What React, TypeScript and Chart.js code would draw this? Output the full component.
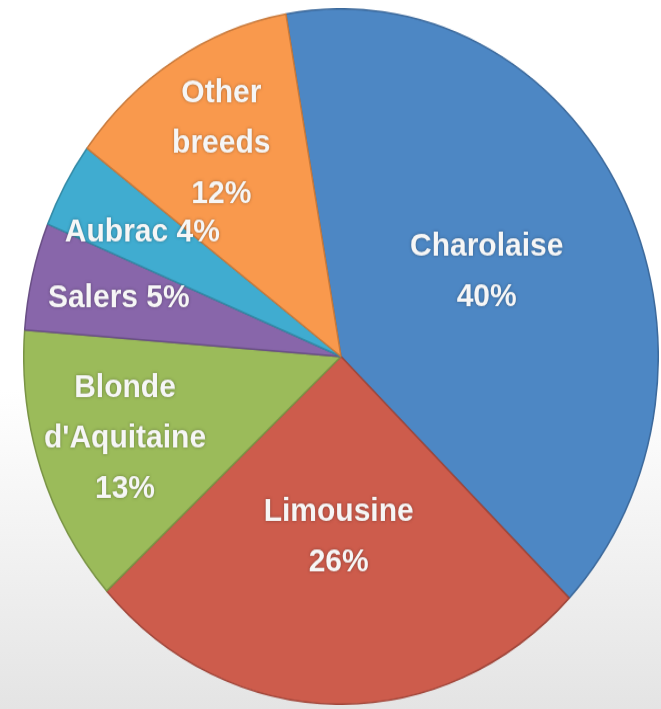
import React, { useEffect, useRef } from "react";
import { Chart, registerables } from "chart.js";

Chart.register(...registerables);

const categories = ["Charolaise", "Limousine", "Blonde d'Aquitaine", "Salers", "Aubrac", "Other breeds"];
const shares = [40, 26, 13, 5, 4, 12];
const inlineLabel = [false, false, false, true, true, false];
const sliceColors = ["#4d87c4", "#cd5c4c", "#9bbb5a", "#8866aa", "#40acd0", "#f9994d"];
const sliceBorders = ["#3d6a9c", "#a0463a", "#7a9446", "#6a4f86", "#338aa6", "#c87a3c"];

const sliceLabels = {
  id: "sliceLabels",
  afterDatasetsDraw(chart: any) {
    const ctx = chart.ctx;
    const meta = chart.getDatasetMeta(0);
    ctx.save();
    ctx.font = "bold 30px 'Liberation Sans', Arial, sans-serif";
    ctx.textAlign = "center";
    ctx.textBaseline = "middle";
    ctx.fillStyle = "#f6f6f6";
    ctx.shadowColor = "rgba(0,0,0,0.35)";
    ctx.shadowBlur = 3;
    const lineStep = 46;
    meta.data.forEach((arc: any, i: number) => {
      const p = arc.getProps(["x", "y", "startAngle", "endAngle", "outerRadius"], true);
      const mid = (p.startAngle + p.endAngle) / 2;
      const frac = shares[i] >= 20 ? 0.52 : 0.72;
      const cx = p.x + Math.cos(mid) * p.outerRadius * frac;
      const cy = p.y + Math.sin(mid) * p.outerRadius * frac;
      const lines = inlineLabel[i]
        ? [`${categories[i]} ${shares[i]}%`]
        : [...categories[i].split(" "), `${shares[i]}%`];
      const top = cy - ((lines.length - 1) * lineStep) / 2;
      lines.forEach((t, k) => ctx.fillText(t, cx, top + k * lineStep));
    });
    ctx.restore();
  },
};

export default function App() {
  const ref = useRef<HTMLCanvasElement | null>(null);
  useEffect(() => {
    document.body.style.margin = "0";
    if (!ref.current) return;
    const chart = new Chart(ref.current, {
      type: "pie",
      data: {
        labels: categories,
        datasets: [
          {
            data: shares,
            backgroundColor: sliceColors,
            borderColor: sliceBorders,
            borderWidth: 1.5,
          },
        ],
      },
      options: {
        animation: false,
        responsive: false,
        rotation: -10,
        layout: { padding: 0 },
        plugins: {
          legend: { display: false },
          tooltip: { enabled: false },
        },
      },
      plugins: [sliceLabels],
    });
    return () => chart.destroy();
  }, []);

  return (
    <div
      style={{
        position: "relative",
        width: 661,
        height: 709,
        overflow: "hidden",
        background: "linear-gradient(to bottom, #ffffff 0%, #ffffff 55%, #e4e4e4 100%)",
      }}
    >
      <div
        style={{
          position: "absolute",
          left: 23,
          top: 8,
          width: 636,
          height: 636,
          transform: "scaleY(1.096)",
          transformOrigin: "top left",
        }}
      >
        <canvas ref={ref} width={636} height={636} style={{ width: 636, height: 636, display: "block" }} />
      </div>
    </div>
  );
}
